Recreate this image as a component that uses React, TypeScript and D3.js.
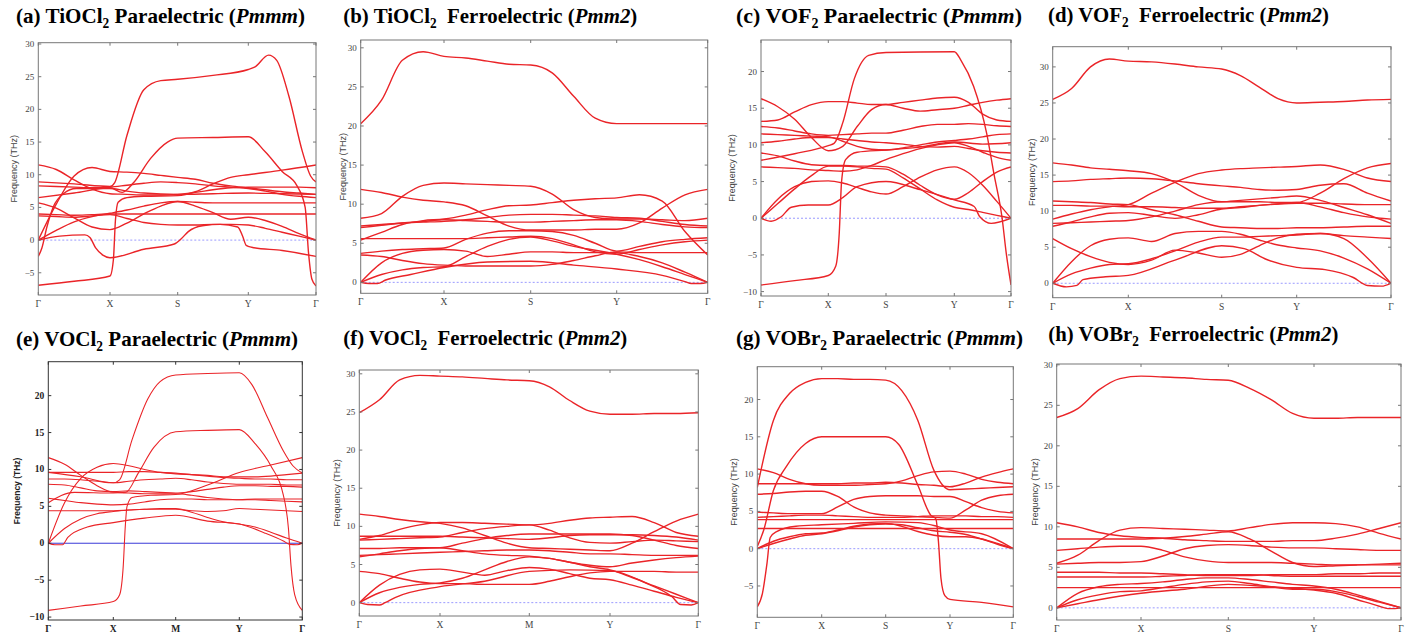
import React from 'react';
import * as d3 from 'd3';

type Pt = [number, number];
type Band = number[] | Pt[];

// high-symmetry labels
const kLabelsGXSYG = ['Γ', 'X', 'S', 'Y', 'Γ'];
const kLabelsGXMYG = ['Γ', 'X', 'M', 'Y', 'Γ'];

// y tick values
const ticksNeg5To30 = [-5, 0, 5, 10, 15, 20, 25, 30];
const ticks0To30 = [0, 5, 10, 15, 20, 25, 30];
const ticksNeg10To20 = [-10, -5, 0, 5, 10, 15, 20];
const ticksNeg5To20 = [-5, 0, 5, 10, 15, 20];

// titles
const panelLetters = ['(a)', '(b)', '(c)', '(d)', '(e)', '(f)', '(g)', '(h)'];
const compounds = ['TiOCl', 'TiOCl', 'VOF', 'VOF', 'VOCl', 'VOCl', 'VOBr', 'VOBr'];
const phases = ['Paraelectric', 'Ferroelectric', 'Paraelectric', 'Ferroelectric', 'Paraelectric', 'Ferroelectric', 'Paraelectric', 'Ferroelectric'];
const groups = ['Pmmm', 'Pmm2', 'Pmmm', 'Pmm2', 'Pmmm', 'Pmm2', 'Pmmm', 'Pmm2'];

// bands: 17 values on a quarter-segment grid, or [t, THz] pairs where t = 0..4 along the path
const bandsA: Band[] = [
  [[0, 8.9], [0.5, 8.6], [1, 8.2], [1.07, 8.8], [1.25, 16], [1.5, 23], [1.75, 24.4], [2, 24.6], [2.5, 25.2], [3, 26.1], [3.1, 26.5], [3.3, 28.3], [3.42, 27.5], [3.6, 22], [3.8, 13.5], [3.92, 9.8], [4, 8.9]],
  [[0, 6.5], [0.5, 7.2], [1, 8.0], [1.18, 7.3], [1.35, 8.8], [1.6, 12.5], [1.85, 15], [2, 15.6], [2.5, 15.7], [3, 15.8], [3.25, 13.5], [3.5, 10.5], [3.72, 8.3], [3.84, 5], [3.89, -2], [3.94, -6], [4, -7]],
  [[0, -6.9], [0.5, -6.3], [1, -5.5], [1.05, -3], [1.08, 3], [1.12, 5.8], [1.25, 6.5], [1.5, 6.7], [2, 6.8], [2.25, 7.4], [2.5, 8.6], [2.75, 9.6], [3, 10], [3.5, 10.7], [4, 11.5]],
  [11.5, 10.8, 9.2, 7.8, 7.1, 7.0, 6.9, 6.9, 7.0, 7.3, 7.7, 8.0, 8.1, 8.1, 8.1, 8.1, 8.0],
  [0, 5.5, 9.8, 11.1, 10.5, 10.4, 10.2, 9.9, 9.6, 9.3, 8.7, 8.3, 8.0, 7.7, 7.4, 7.2, 7.0],
  [8.3, 8.2, 8.1, 8.0, 8.1, 8.4, 8.7, 8.9, 8.8, 8.6, 8.3, 8.1, 7.9, 7.5, 7.0, 6.7, 6.5],
  [[0, -2.5], [0.05, -1.2], [0.12, 2], [0.21, 5.1], [0.35, 7.1], [0.53, 7.9], [1, 7.9], [1.25, 7.5], [1.5, 7.2], [2, 7.0], [2.5, 7.1], [3, 7.2], [3.5, 7.1], [4, 7.0]],
  [5.7, 4.9, 3.4, 2.0, 1.6, 2.6, 4.0, 5.2, 5.9, 5.8, 5.7, 5.7, 5.7, 5.7, 5.7, 5.7, 5.7],
  [4.0, 3.9, 3.8, 3.9, 4.0, 4.0, 4.0, 4.0, 4.0, 4.0, 4.0, 4.0, 4.0, 4.0, 4.0, 4.0, 4.0],
  [3.7, 3.6, 3.5, 3.7, 3.9, 3.3, 2.7, 2.4, 2.3, 2.3, 2.4, 2.4, 2.3, 1.8, 1.2, 0.6, 0],
  [0, 1.5, 2.8, 3.6, 4.1, 4.6, 5.2, 5.7, 5.9, 5.2, 4.2, 3.2, 3.5, 3.0, 2.1, 1.0, 0],
  [[0, 0], [0.3, 0.6], [0.65, 0.8], [0.72, 0.4], [0.8, -1.2], [0.9, -2.3], [1, -2.7], [1.5, -1.4], [1.95, -0.6], [2.05, 0.2], [2.15, 1.3], [2.35, 2.2], [2.6, 2.4], [2.85, 2.0], [2.92, 0.6], [2.97, -0.8], [3.05, -1.1], [3.5, -1.6], [4, -2.5]],
];

const bandsB: Band[] = [
  [20.3, 23.3, 28.4, 29.5, 28.9, 28.7, 28.3, 27.9, 27.8, 26.8, 23.8, 21.0, 20.3, 20.3, 20.3, 20.3, 20.3],
  [11.9, 11.5, 10.9, 10.5, 10.3, 9.8, 8.5, 7.2, 6.7, 6.7, 6.7, 6.8, 6.8, 7.6, 9.5, 11.2, 11.9],
  [8.2, 8.8, 11.0, 12.4, 12.7, 12.6, 12.5, 12.4, 12.3, 11.3, 9.3, 8.3, 8.1, 8.1, 8.0, 7.9, 8.2],
  [5.4, 6.4, 7.4, 7.9, 8.1, 8.6, 9.3, 9.8, 9.9, 10.2, 10.5, 10.7, 10.8, 11.2, 10.4, 6.5, 3.5],
  [7.2, 7.4, 7.6, 7.7, 7.8, 8.0, 8.3, 8.6, 8.7, 8.7, 8.6, 8.5, 8.3, 8.2, 7.8, 7.4, 7.2],
  [7.0, 7.3, 7.6, 7.8, 8.0, 7.9, 7.8, 7.7, 7.7, 7.8, 7.9, 8.0, 8.0, 7.8, 7.4, 7.1, 7.0],
  [5.6, 5.6, 5.6, 5.6, 5.6, 5.6, 5.7, 5.8, 5.9, 5.6, 4.8, 3.9, 3.6, 4.2, 4.8, 5.2, 5.4],
  [3.7, 4.0, 4.2, 4.3, 4.4, 5.5, 6.3, 6.6, 6.6, 6.5, 6.0, 5.0, 4.0, 4.6, 5.2, 5.5, 5.7],
  [3.5, 3.3, 2.8, 2.4, 2.2, 2.1, 2.1, 2.1, 2.1, 2.3, 2.8, 3.4, 3.9, 3.8, 3.8, 3.8, 3.8],
  [0, 2.5, 3.7, 4.1, 4.2, 4.0, 3.3, 3.6, 3.9, 3.9, 3.8, 3.8, 3.8, 3.3, 2.5, 1.3, 0],
  [0, 1.0, 1.6, 1.9, 2.0, 3.3, 4.6, 5.5, 5.8, 5.3, 4.6, 4.1, 3.6, 2.9, 2.0, 1.0, 0],
  [[0, 0], [0.1, -0.15], [0.2, -0.15], [0.3, 0.3], [0.6, 1.0], [1, 1.9], [1.5, 2.6], [2, 2.7], [2.5, 2.2], [3, 1.7], [3.5, 0.9], [3.75, 0.1], [3.82, -0.15], [3.92, -0.15], [4, 0]],
];

const bandsC: Band[] = [
  [[0, 7.9], [0.5, 8.8], [1, 9.9], [1.1, 10.2], [1.25, 13], [1.45, 19], [1.7, 22.2], [2, 22.6], [3, 22.7], [3.12, 21.5], [3.34, 18], [3.57, 11.6], [3.7, 6], [3.84, 0.2], [3.92, -5], [4, -9.1]],
  [[0, -9.1], [0.5, -8.5], [1, -7.8], [1.13, -6.5], [1.19, -2], [1.23, 5], [1.3, 8], [1.5, 9], [2, 9.3], [2.5, 9.7], [3, 10.4], [3.5, 10.1], [4, 10.3]],
  [16.3, 15.2, 13.5, 11.0, 9.2, 9.8, 12.5, 14.8, 15.5, 15.0, 14.6, 14.8, 15.0, 15.4, 15.8, 16.1, 16.3],
  [13.2, 13.4, 14.5, 15.5, 15.9, 15.9, 15.7, 15.5, 15.5, 15.8, 16.1, 16.4, 16.5, 15.8, 14.2, 13.4, 13.2],
  [12.5, 12.3, 11.9, 11.5, 11.3, 11.4, 11.5, 11.6, 11.6, 12.0, 12.5, 12.8, 12.8, 12.9, 12.8, 12.6, 12.5],
  [11.5, 11.4, 11.3, 11.2, 11.1, 10.5, 9.8, 9.4, 9.3, 9.6, 10.0, 10.4, 10.6, 10.8, 11.1, 11.4, 11.5],
  [10.3, 10.5, 10.8, 11.0, 11.0, 10.8, 10.6, 10.4, 10.3, 10.1, 9.8, 9.7, 9.8, 9.5, 9.2, 9.0, 8.9],
  [8.9, 8.5, 7.8, 7.3, 7.2, 7.2, 7.1, 7.1, 7.0, 6.0, 4.5, 3.2, 2.6, 3.5, 5.0, 6.3, 7.0],
  [7.0, 6.9, 6.8, 6.6, 6.5, 6.4, 6.6, 7.2, 8.0, 8.8, 9.5, 10.0, 10.3, 9.8, 9.0, 8.3, 7.9],
  [0, 2.6, 4.3, 5.0, 5.1, 4.8, 4.2, 3.6, 3.3, 4.3, 5.6, 6.6, 7.0, 6.2, 4.5, 2.3, 0],
  [0, 2.0, 4.0, 5.8, 7.1, 7.1, 7.0, 6.8, 6.7, 5.5, 4.0, 2.5, 1.5, 1.2, 0.8, 0.4, 0],
  [[0, 0], [0.15, -0.4], [0.3, 0.2], [0.45, 1.5], [0.7, 1.8], [1, 1.8], [1.25, 2.8], [1.5, 4.3], [2, 5], [2.5, 3.9], [3, 2.5], [3.35, 1.6], [3.45, 0.2], [3.65, -0.7], [4, 0]],
];

const bandsD: Band[] = [
  [25.5, 27.0, 30.0, 31.1, 30.8, 30.7, 30.4, 30.0, 29.7, 28.8, 27.2, 25.6, 25.0, 25.1, 25.2, 25.4, 25.5],
  [16.7, 16.4, 16.0, 15.8, 15.6, 15.2, 14.0, 12.2, 11.3, 11.5, 11.7, 11.9, 12.1, 11.5, 10.5, 9.5, 8.3],
  [14.1, 14.2, 14.4, 14.5, 14.6, 14.5, 14.2, 13.8, 13.5, 13.3, 13.0, 12.9, 13.0, 13.6, 13.8, 12.5, 11.4],
  [8.9, 9.6, 10.2, 10.6, 10.9, 12.5, 14.0, 15.2, 15.7, 15.9, 16.0, 16.1, 16.2, 16.4, 15.8, 14.6, 14.1],
  [11.4, 11.3, 11.2, 11.0, 10.9, 10.2, 9.5, 8.6, 7.8, 7.7, 7.6, 7.6, 7.7, 7.7, 7.8, 7.9, 7.9],
  [10.8, 10.8, 10.7, 10.7, 10.6, 10.6, 10.5, 10.4, 10.4, 10.6, 10.8, 11.0, 11.1, 11.1, 11.0, 10.9, 10.9],
  [8.3, 8.4, 8.5, 8.6, 8.7, 9.2, 10.0, 10.9, 11.3, 11.3, 11.3, 11.2, 11.2, 12.5, 14.5, 16.0, 16.6],
  [7.9, 8.5, 9.2, 9.7, 9.8, 9.4, 9.0, 9.5, 10.3, 10.5, 10.8, 11.0, 11.2, 10.6, 9.8, 9.2, 8.9],
  [6.2, 4.8, 3.7, 2.9, 2.6, 3.2, 4.6, 4.2, 3.6, 4.0, 5.2, 6.3, 6.8, 6.9, 6.6, 6.4, 6.2],
  [0, 3.0, 5.2, 6.1, 6.3, 5.8, 6.9, 7.2, 7.2, 6.8, 6.0, 5.3, 4.9, 4.5, 3.5, 2.0, 0],
  [0, 1.3, 2.1, 2.6, 2.7, 3.4, 4.5, 5.7, 6.4, 6.4, 6.5, 6.6, 6.7, 6.9, 6.2, 3.5, 0],
  [[0, 0], [0.18, -0.5], [0.32, -0.3], [0.4, 0.5], [0.7, 0.9], [1, 1.1], [1.5, 3.2], [2, 5.2], [2.3, 4.8], [2.6, 3.3], [3, 2.2], [3.3, 1.9], [3.6, 0.8], [3.75, -0.3], [3.9, -0.4], [4, 0]],
];

const bandsE: Band[] = [
  [[0, 9.6], [0.5, 9.0], [1, 8.2], [1.1, 8.6], [1.3, 14], [1.55, 19.5], [1.75, 21.9], [2, 22.8], [2.5, 23.0], [3, 23.1], [3.2, 21.5], [3.45, 17], [3.7, 12.5], [3.85, 10.5], [4, 9.5]],
  [[0, 5.5], [0.4, 6.9], [1, 6.8], [1.2, 6.9], [1.4, 9.5], [1.65, 13], [2, 15.1], [2.5, 15.3], [3, 15.4], [3.25, 13.5], [3.5, 10.5], [3.7, 6.5], [3.78, 2], [3.82, -3], [3.88, -7], [4, -9.1]],
  [[0, -9.1], [0.5, -8.5], [1, -7.9], [1.1, -7], [1.16, -3], [1.19, 2], [1.22, 5], [1.3, 6.2], [1.6, 6.5], [2, 6.6], [2.5, 7.9], [3, 9.6], [3.5, 10.6], [4, 11.6]],
  [11.6, 10.7, 9.2, 7.8, 6.9, 6.8, 6.7, 6.7, 6.7, 6.5, 6.2, 6.0, 5.9, 6.0, 6.0, 6.0, 6.0],
  [0, 5.5, 8.8, 10.3, 10.8, 10.5, 10.0, 9.6, 9.4, 9.3, 9.2, 9.0, 9.0, 9.0, 9.1, 9.3, 9.5],
  [9.6, 9.6, 9.6, 9.6, 9.6, 9.7, 9.7, 9.6, 9.5, 9.3, 9.1, 8.9, 8.8, 8.7, 8.7, 8.6, 8.6],
  [8.7, 8.7, 8.6, 8.4, 8.2, 8.4, 8.6, 8.7, 8.8, 8.6, 8.3, 8.1, 8.0, 8.0, 8.0, 7.9, 7.9],
  [8.0, 7.9, 7.5, 7.1, 7.0, 7.1, 7.0, 6.9, 6.8, 7.0, 7.3, 7.6, 7.8, 7.8, 7.7, 7.7, 7.6],
  [6.1, 5.8, 5.5, 5.3, 5.2, 5.3, 5.6, 5.9, 6.0, 6.0, 5.9, 5.9, 5.9, 5.9, 5.8, 5.7, 5.6],
  [4.4, 4.4, 4.4, 4.4, 4.4, 4.5, 4.6, 4.6, 4.6, 4.4, 4.3, 4.4, 4.7, 4.6, 4.5, 4.4, 4.3],
  [[0, 0], [0.1, -0.2], [0.22, -0.2], [0.3, 0.8], [0.6, 2.2], [1, 2.8], [1.5, 3.4], [2, 3.8], [2.5, 3.0], [3, 2.6], [3.4, 1.4], [3.7, 0.3], [3.8, -0.15], [3.92, -0.2], [4, 0]],
  [0, 2.0, 3.3, 4.0, 4.3, 4.5, 4.6, 4.7, 4.7, 4.2, 3.5, 2.9, 2.6, 2.2, 1.5, 0.7, 0],
];

const bandsF: Band[] = [
  [24.9, 26.6, 29.2, 29.8, 29.7, 29.6, 29.4, 29.2, 29.1, 28.3, 26.5, 25.1, 24.7, 24.7, 24.8, 24.8, 24.9],
  [11.6, 11.3, 10.9, 10.6, 10.4, 9.8, 8.8, 7.8, 7.2, 7.1, 7.0, 6.9, 6.8, 7.8, 9.3, 10.7, 11.6],
  [8.3, 8.8, 9.6, 10.2, 10.5, 10.5, 10.4, 10.3, 10.2, 10.4, 10.8, 11.1, 11.2, 11.3, 10.5, 9.2, 8.7],
  [8.7, 8.7, 8.7, 8.7, 8.7, 8.6, 8.5, 8.4, 8.3, 8.5, 8.8, 8.9, 8.9, 8.9, 8.8, 8.6, 8.2],
  [8.2, 8.3, 8.4, 8.5, 8.6, 9.2, 9.7, 10.0, 10.2, 9.5, 8.5, 7.9, 7.8, 8.0, 8.2, 8.1, 8.0],
  [7.1, 7.1, 7.2, 7.2, 7.2, 7.8, 8.4, 8.8, 9.0, 9.0, 9.0, 9.0, 9.0, 8.8, 8.2, 7.5, 7.1],
  [6.2, 6.3, 6.4, 6.5, 6.6, 6.7, 6.8, 6.9, 6.9, 6.8, 6.6, 6.4, 6.4, 6.3, 6.2, 6.2, 6.2],
  [6.0, 6.4, 6.8, 7.1, 7.2, 6.8, 6.4, 6.2, 6.1, 5.8, 5.3, 4.9, 4.7, 5.2, 5.6, 5.9, 6.1],
  [4.1, 3.8, 3.2, 2.7, 2.5, 2.5, 2.4, 2.4, 2.4, 2.8, 3.4, 3.9, 4.1, 4.1, 4.1, 4.0, 4.0],
  [0, 2.3, 3.7, 4.3, 4.4, 4.0, 3.6, 4.2, 4.6, 4.4, 3.8, 3.2, 3.0, 2.3, 1.5, 0.7, 0],
  [0, 1.3, 2.0, 2.4, 2.6, 3.2, 4.3, 5.4, 6.0, 5.8, 5.3, 4.7, 4.3, 3.3, 2.2, 1.1, 0],
  [[0, 0], [0.1, -0.25], [0.25, -0.3], [0.32, 0], [0.45, 0.7], [1, 2.1], [1.5, 2.8], [2, 4.1], [2.5, 4.3], [3, 4.2], [3.4, 2.6], [3.7, 0.8], [3.8, -0.25], [3.92, -0.3], [4, 0]],
];

const bandsG: Band[] = [
  [8.2, 17.2, 20.8, 22.3, 22.8, 22.8, 22.7, 22.7, 22.6, 21.2, 17.2, 10.5, 7.9, 8.0, 8.1, 8.2, 8.3],
  [[0, 0.3], [0.1, 2.5], [0.25, 7.8], [0.45, 11], [0.75, 14.1], [1, 15.0], [2, 15.0], [2.2, 14], [2.5, 8.5], [2.7, 4.5], [2.78, 4.0], [2.82, 1], [2.86, -4], [2.92, -6.3], [3, -6.8], [3.5, -7.2], [4, -7.8]],
  [[0, -7.8], [0.08, -6], [0.15, -2], [0.2, 1.5], [0.3, 2.3], [0.6, 3.0], [1, 3.2], [1.5, 3.4], [2, 3.6], [2.5, 3.5], [2.8, 3.0], [3, 2.5], [3.5, 2.0], [4, 0]],
  [10.7, 10.2, 9.3, 8.7, 8.5, 8.5, 8.5, 8.6, 8.7, 9.1, 9.8, 10.3, 10.4, 10.0, 9.3, 8.9, 8.7],
  [8.7, 8.7, 8.7, 8.7, 8.7, 8.7, 8.8, 8.8, 8.9, 8.8, 8.6, 8.5, 8.3, 8.8, 9.6, 10.2, 10.7],
  [7.3, 7.4, 7.6, 7.7, 7.7, 7.0, 5.6, 4.8, 4.5, 4.4, 4.3, 4.2, 4.1, 5.2, 6.5, 7.1, 7.3],
  [4.9, 4.8, 4.7, 4.7, 4.7, 5.6, 6.6, 7.0, 7.1, 7.1, 7.1, 7.0, 7.0, 6.3, 5.5, 5.0, 4.8],
  [4.2, 4.3, 4.4, 4.5, 4.5, 4.4, 4.3, 4.2, 4.2, 4.2, 4.3, 4.4, 4.4, 4.4, 4.3, 4.3, 4.2],
  [3.9, 3.9, 3.9, 3.9, 3.9, 3.9, 3.9, 3.9, 3.9, 3.9, 3.9, 3.9, 3.9, 3.9, 3.9, 3.9, 3.9],
  [2.7, 2.7, 2.7, 2.7, 2.7, 2.7, 2.7, 2.7, 2.7, 2.7, 2.7, 2.7, 2.7, 2.7, 2.7, 2.7, 2.7],
  [0, 1.0, 1.6, 2.0, 2.1, 2.5, 3.0, 3.3, 3.4, 3.0, 2.3, 1.8, 1.6, 1.6, 1.3, 0.7, 0],
  [0, 0.7, 1.3, 1.8, 2.0, 2.4, 2.9, 3.2, 3.3, 3.2, 2.8, 2.4, 2.2, 1.9, 1.3, 0.6, 0],
];

const bandsH: Band[] = [
  [23.5, 24.6, 26.9, 28.3, 28.6, 28.5, 28.4, 28.2, 28.1, 27.1, 25.7, 24.0, 23.4, 23.4, 23.5, 23.5, 23.5],
  [10.5, 10.0, 9.3, 8.9, 8.7, 8.6, 8.4, 8.3, 8.2, 8.2, 8.2, 8.3, 8.3, 8.6, 9.1, 9.8, 10.5],
  [5.5, 6.5, 8.3, 9.6, 9.9, 9.8, 9.7, 9.6, 9.5, 9.9, 10.3, 10.5, 10.5, 10.4, 10.0, 9.2, 8.5],
  [8.5, 8.5, 8.5, 8.5, 8.5, 8.6, 8.8, 9.1, 9.4, 8.5, 7.0, 5.6, 5.1, 5.2, 5.3, 5.4, 5.5],
  [7.1, 7.3, 7.5, 7.6, 7.6, 7.1, 6.3, 5.8, 5.6, 5.6, 5.6, 5.5, 5.4, 5.3, 5.3, 5.3, 5.3],
  [5.4, 5.5, 5.6, 5.6, 5.7, 6.4, 7.3, 7.7, 7.8, 7.7, 7.5, 7.4, 7.4, 7.3, 7.2, 7.1, 7.1],
  [4.4, 4.4, 4.4, 4.3, 4.3, 4.2, 4.1, 4.0, 4.0, 4.0, 4.1, 4.1, 4.1, 4.2, 4.2, 4.3, 4.3],
  [3.8, 3.8, 3.8, 3.8, 3.8, 3.9, 4.0, 4.1, 4.1, 4.1, 4.0, 3.9, 3.9, 3.9, 3.9, 3.9, 3.9],
  [2.5, 2.5, 2.5, 2.5, 2.5, 2.5, 2.5, 2.5, 2.5, 2.5, 2.5, 2.5, 2.5, 2.5, 2.5, 2.5, 2.5],
  [0, 1.8, 2.6, 2.9, 3.0, 3.2, 3.5, 3.7, 3.7, 3.5, 3.2, 2.9, 2.7, 2.3, 1.6, 0.8, 0],
  [0, 1.0, 1.6, 2.0, 2.1, 2.5, 2.9, 3.2, 3.3, 3.0, 2.6, 2.3, 2.3, 2.0, 1.4, 0.7, 0],
  [[0, 0], [0.25, 0.5], [0.5, 1.0], [1, 1.8], [1.5, 2.3], [2, 2.9], [2.5, 2.6], [3, 2.2], [3.25, 1.8], [3.5, 1.0], [3.75, 0.2], [3.85, -0.1], [3.93, -0.1], [4, 0]],
];

const allBands = [bandsA, bandsB, bandsC, bandsD, bandsE, bandsF, bandsG, bandsH];
const allTicks = [ticksNeg5To30, ticks0To30, ticksNeg10To20, ticks0To30, ticksNeg10To20, ticks0To30, ticksNeg5To20, ticks0To30];
const allKLabels = [kLabelsGXSYG, kLabelsGXSYG, kLabelsGXSYG, kLabelsGXSYG, kLabelsGXMYG, kLabelsGXMYG, kLabelsGXSYG, kLabelsGXSYG];
const allDomains: [number, number][] = [[-8.4, 30.2], [-1.4, 31.0], [-10.6, 24.3], [-2.0, 32.8], [-10.4, 24.6], [-1.75, 30.5], [-9.2, 24.4], [-1.5, 30.1]];

// layout (pixels)
const layouts = [
  { kx: [38.3, 110, 177.7, 248.3, 316], top: 42.7, bottom: 295, tx: 16, ty: 23, tw: 289, lx: 14 },
  { kx: [360.7, 444, 530.7, 616.7, 707.7], top: 40, bottom: 293.3, tx: 343.3, ty: 23, tw: 294, lx: 343 },
  { kx: [761, 828.3, 886, 954.3, 1011], top: 40, bottom: 296, tx: 736, ty: 23, tw: 286, lx: 731.7 },
  { kx: [1052.7, 1128.3, 1221.7, 1296.7, 1391], top: 46.7, bottom: 297.7, tx: 1048, ty: 22, tw: 281, lx: 1032 },
  { kx: [48.3, 113.3, 175.7, 239.3, 302.3], top: 361.7, bottom: 620, tx: 16, ty: 346, tw: 282, lx: 17.3 },
  { kx: [359.3, 440, 529.3, 610, 698.3], top: 370, bottom: 616, tx: 343.3, ty: 345, tw: 284, lx: 336.7 },
  { kx: [757.3, 821.7, 885.7, 950, 1013.3], top: 366.7, bottom: 617.3, tx: 736, ty: 345, tw: 287, lx: 734 },
  { kx: [1056.7, 1141, 1228.3, 1314, 1401], top: 364, bottom: 620, tx: 1048.3, ty: 341, tw: 290, lx: 1035 },
];

const toPts = (b: Band): Pt[] =>
  typeof b[0] === 'number' ? (b as number[]).map((v, i) => [i / 4, v] as Pt) : (b as Pt[]);

const serif = "'Liberation Serif', 'Times New Roman', serif";
const sans = "'Liberation Sans', Arial, sans-serif";

const Panel = ({ i }: { i: number }) => {
  const L = layouts[i];
  const bold = i === 4;
  const left = L.kx[0];
  const right = L.kx[4];
  const x = d3.scaleLinear().domain([0, 1, 2, 3, 4]).range(L.kx);
  const y = d3.scaleLinear().domain(allDomains[i]).range([L.bottom, L.top]);
  const line = d3.line<Pt>().x(d => x(d[0])).y(d => y(d[1])).curve(d3.curveMonotoneX);
  const frame = bold ? '#333' : '#777';
  const txt = bold ? '#222' : '#444';
  const fmt = (v: number) => (v < 0 ? '\u2212' + Math.abs(v) : String(v));
  const sep = i === 1 || i === 3 || i === 5 || i === 7 ? '\u00a0 ' : ' ';
  const clip = `clip-${i}`;
  return (
    <g>
      <clipPath id={clip}>
        <rect x={left} y={L.top} width={right - left} height={L.bottom - L.top} />
      </clipPath>
      <text x={L.tx} y={L.ty} textLength={L.tw} lengthAdjust="spacingAndGlyphs"
        style={{ fontFamily: serif, fontWeight: 700, fontSize: '22px' }}>
        {`${panelLetters[i]} ${compounds[i]}`}
        <tspan style={{ fontSize: '14px' }} dy={5}>2</tspan>
        <tspan dy={-5}>{`${sep}${phases[i]} (`}</tspan>
        <tspan style={{ fontStyle: 'italic' }}>{groups[i]}</tspan>
        <tspan>)</tspan>
      </text>
      <line x1={left} x2={right} y1={y(0)} y2={y(0)} stroke={bold ? '#3a3ad8' : '#9a9aff'}
        strokeWidth={1} strokeDasharray={bold ? undefined : '2,2'} />
      <g clipPath={`url(#${clip})`}>
        {allBands[i].map((b, j) => (
          <path key={j} d={line(toPts(b)) || ''} fill="none" stroke="#ea2428"
            strokeWidth={bold ? 1.1 : 1.4} />
        ))}
      </g>
      <rect x={left} y={L.top} width={right - left} height={L.bottom - L.top}
        fill="none" stroke={frame} strokeWidth={1} />
      {allTicks[i].map(t => (
        <g key={t}>
          <line x1={left} x2={left + 3} y1={y(t)} y2={y(t)} stroke={frame} />
          <line x1={right - 3} x2={right} y1={y(t)} y2={y(t)} stroke={frame} />
          <text x={left - 4} y={y(t) + 3} textAnchor="end"
            style={{ fontFamily: serif, fontWeight: bold ? 700 : 400, fontSize: bold ? '9.5px' : '9px' }}
            fill={txt}>{fmt(t)}</text>
        </g>
      ))}
      {allKLabels[i].map((k, j) => (
        <g key={j}>
          <line x1={L.kx[j]} x2={L.kx[j]} y1={L.bottom} y2={L.bottom - 3} stroke={frame} />
          <line x1={L.kx[j]} x2={L.kx[j]} y1={L.top} y2={L.top + 3} stroke={frame} />
          <text x={L.kx[j]} y={L.bottom + 12} textAnchor="middle"
            style={{ fontFamily: serif, fontWeight: bold ? 700 : 400, fontSize: '9.5px' }}
            fill={txt}>{k}</text>
        </g>
      ))}
      <text transform={`translate(${L.lx + 3},${(L.top + L.bottom) / 2}) rotate(-90)`}
        textAnchor="middle"
        style={{ fontFamily: sans, fontWeight: bold ? 700 : 400, fontSize: bold ? '8.5px' : '9px' }}
        fill={txt}>Frequency (THz)</text>
    </g>
  );
};

const App = () => (
  <svg width={1419} height={640} style={{ position: 'absolute', left: 0, top: 0, background: '#fff' }}>
    <rect width={1419} height={640} fill="#fff" />
    {layouts.map((_, i) => <Panel key={i} i={i} />)}
  </svg>
);

export default App;
